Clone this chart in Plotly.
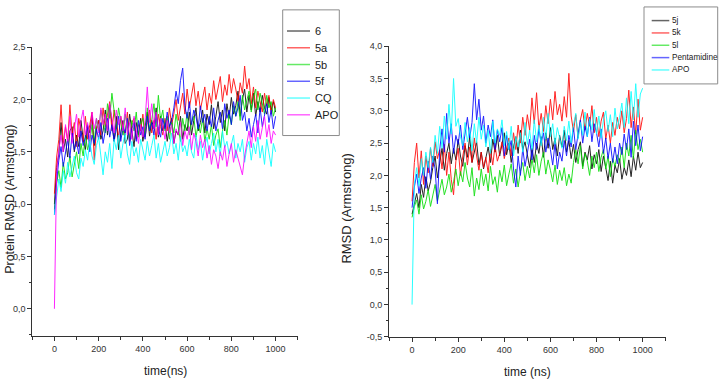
import plotly.graph_objects as go

W, H = 719, 387

# ---------------- data ----------------
TIME_NS = list(range(0, 1001, 10))

LEFT_NAMES = ["6", "5a", "5b", "5f", "CQ", "APO"]
RIGHT_NAMES = ["5j", "5k", "5l", "Pentamidine", "APO"]

L_6 = [1.0, 1.35, 1.48, 1.78, 1.5, 1.62, 1.45, 1.7, 1.74, 1.5,
       1.66, 1.55, 1.8, 1.62, 1.52, 1.75, 1.68, 1.85, 1.56, 1.72,
       1.8, 1.62, 1.7, 1.9, 1.66, 1.95, 1.78, 1.6, 1.84, 1.52,
       1.68, 1.8, 1.58, 1.62, 1.86, 1.7, 1.55, 1.78, 1.66, 1.82,
       1.6, 1.74, 1.88, 1.65, 1.8, 1.72, 1.92, 1.64, 1.84, 1.7,
       1.78, 1.6, 1.74, 1.82, 1.58, 1.7, 1.66, 1.84, 1.62, 1.76,
       1.7, 1.88, 1.66, 1.8, 1.92, 1.7, 1.78, 1.9, 1.68, 1.86,
       1.76, 1.95, 1.72, 1.84, 1.98, 1.78, 1.9, 1.7, 1.96, 1.82,
       2.02, 1.86, 1.94, 2.08, 1.84, 2.0, 2.1, 1.88, 2.04, 1.9,
       2.06, 1.84, 1.98, 1.88, 2.04, 1.92, 1.86, 2.02, 1.9, 1.98,
       1.88]
L_5A = [1.1, 1.45, 1.62, 1.95, 1.58, 1.74, 1.6, 1.95, 1.66, 1.78,
        1.55, 1.82, 1.7, 1.6, 1.84, 1.62, 1.76, 1.88, 1.42, 1.72,
        1.8, 1.66, 1.92, 1.74, 1.85, 1.98, 1.7, 1.9, 1.78, 1.64,
        1.84, 1.72, 1.66, 1.88, 1.6, 1.78, 1.82, 1.62, 1.76, 1.7,
        1.86, 1.64, 1.78, 1.9, 1.68, 1.8, 1.62, 1.86, 1.74, 1.66,
        1.82, 1.7, 1.92, 1.76, 1.86, 2.0, 1.8, 1.92, 2.06, 1.86,
        2.1, 1.92, 2.04, 2.16, 1.94, 2.08, 1.9, 2.02, 2.12, 1.9,
        2.06, 1.96, 2.18, 2.0, 2.1, 2.22, 1.98, 2.14, 2.04, 2.24,
        2.06, 2.2, 2.1, 1.98, 2.16, 2.06, 2.32, 2.1, 2.2, 1.96,
        2.12, 1.92, 2.08, 1.98, 1.88, 2.06, 1.94, 2.04, 1.86, 2.0,
        1.92]
L_5B = [0.95, 1.2, 1.32, 1.16, 1.4, 1.24, 1.3, 1.46, 1.26, 1.38,
        1.5, 1.34, 1.58, 1.46, 1.66, 1.52, 1.6, 1.76, 1.58, 1.82,
        1.7, 1.9, 1.78, 1.68, 1.96, 1.82, 2.06, 1.86, 1.72, 1.92,
        1.78, 1.66, 1.86, 1.74, 1.62, 1.8, 1.7, 1.88, 1.64, 1.76,
        1.82, 1.66, 1.92, 1.72, 1.8, 1.96, 1.74, 2.04, 1.8, 1.9,
        1.7, 1.84, 1.62, 1.78, 1.68, 1.86, 1.72, 1.6, 1.82, 1.7,
        1.88, 1.66, 1.78, 1.84, 1.64, 1.76, 1.68, 1.82, 1.6, 1.72,
        1.62, 1.76, 1.56, 1.66, 1.72, 1.54, 1.7, 1.8, 1.66, 1.86,
        1.76, 1.94, 1.84, 1.98, 1.8, 2.04, 1.9, 1.98, 2.08, 1.88,
        2.02, 2.1, 1.9, 2.06, 1.94, 1.86, 2.04, 1.92, 1.98, 1.84,
        1.92]
L_5F = [0.9, 1.22, 1.42, 1.55, 1.36, 1.5, 1.62, 1.44, 1.68, 1.52,
        1.6, 1.48, 1.7, 1.56, 1.64, 1.76, 1.5, 1.66, 1.58, 1.72,
        1.62, 1.78, 1.58, 1.7, 1.82, 1.64, 1.76, 1.6, 1.72, 1.84,
        1.6, 1.74, 1.68, 1.82, 1.56, 1.72, 1.78, 1.6, 1.8, 1.66,
        1.74, 1.62, 1.84, 1.7, 1.78, 1.66, 1.86, 1.72, 1.64, 1.82,
        1.72, 1.88, 1.74, 1.8, 1.92, 2.08, 1.96, 2.18, 2.3, 1.94,
        1.82, 1.98, 1.76, 1.9, 1.84, 1.72, 1.94, 1.78, 1.86, 1.7,
        1.84, 1.74, 1.92, 1.7, 1.8, 1.88, 1.72, 1.96, 1.82, 1.9,
        1.76, 1.98, 1.84, 1.92, 2.04, 1.8, 1.88, 1.7, 1.82, 1.64,
        1.76, 1.86, 1.68, 1.92, 1.74, 1.84, 1.96, 1.78, 1.9, 1.72,
        1.84]
L_CQ = [0.9, 1.06, 1.24, 1.12, 1.32, 1.2, 1.4, 1.26, 1.36, 1.46,
        1.3, 1.24, 1.44, 1.36, 1.52, 1.42, 1.6, 1.46, 1.38, 1.56,
        1.64, 1.46, 1.28, 1.5, 1.4, 1.58, 1.34, 1.62, 1.52, 1.66,
        1.44, 1.58, 1.68, 1.48, 1.38, 1.6, 1.46, 1.54, 1.4, 1.62,
        1.5, 1.42, 1.6, 1.46, 1.56, 1.66, 1.44, 1.58, 1.4, 1.52,
        1.6, 1.46, 1.54, 1.68, 1.48, 1.58, 1.42, 1.64, 1.5, 1.56,
        1.46, 1.62, 1.5, 1.44, 1.66, 1.52, 1.6, 1.42, 1.56, 1.64,
        1.48, 1.58, 1.68, 1.5, 1.62, 1.46, 1.7, 1.54, 1.6, 1.48,
        1.56, 1.66, 1.44, 1.58, 1.5, 1.62, 1.4, 1.54, 1.6, 1.42,
        1.58, 1.48, 1.64, 1.44, 1.56, 1.38, 1.62, 1.5, 1.36, 1.58,
        1.5]
L_APO = [0.0, 1.3, 1.52, 1.66, 1.5, 1.76, 1.6, 1.84, 1.58, 1.72,
         1.86, 1.64, 1.8, 1.9, 1.66, 1.78, 1.62, 1.88, 1.72, 1.82,
         1.68, 1.92, 1.76, 1.86, 1.7, 1.96, 1.8, 1.68, 1.9, 1.76,
         1.84, 1.7, 1.92, 1.66, 1.78, 1.62, 1.84, 1.7, 1.58, 1.76,
         1.64, 1.8, 2.12, 1.78, 1.96, 1.72, 1.88, 1.66, 1.82, 1.74,
         1.62, 1.8, 1.68, 1.76, 1.58, 1.72, 1.66, 1.78, 1.56, 1.7,
         1.62, 1.74, 1.52, 1.68, 1.6, 1.46, 1.66, 1.54, 1.62, 1.44,
         1.56, 1.38, 1.52, 1.46, 1.34, 1.5, 1.42, 1.56, 1.36, 1.48,
         1.58, 1.4, 1.52, 1.44, 1.36, 1.28, 1.46, 1.6, 1.7, 1.54,
         1.74, 1.6, 1.8, 1.62, 1.72, 1.84, 1.64, 1.76, 1.58, 1.7,
         1.66]

R_5J = [1.4, 1.58, 1.72, 1.5, 1.86, 1.66, 1.98, 1.76, 1.9, 2.12,
        2.3, 1.96, 2.2, 2.42, 2.08, 2.34, 2.5, 2.18, 2.42, 2.24,
        2.56, 2.3, 2.14, 2.46, 2.28, 2.6, 2.2, 2.38, 2.52, 2.16,
        2.36, 2.1, 2.28, 2.44, 2.2, 2.56, 2.36, 2.62, 2.3, 2.5,
        2.66, 2.32, 2.5, 2.2, 2.44, 2.6, 2.34, 2.7, 2.4, 2.52,
        2.3, 2.12, 2.42, 2.2, 2.5, 2.34, 2.6, 2.28, 2.66, 2.42,
        2.74, 2.4, 2.58, 2.3, 2.62, 2.44, 2.7, 2.36, 2.54, 2.26,
        2.48, 2.2, 2.4, 2.52, 2.14, 2.36, 2.24, 2.46, 2.1, 2.32,
        2.18, 2.4, 2.06, 2.3, 2.12, 1.92, 2.22, 1.88, 2.16, 2.04,
        2.26, 1.94, 2.12, 2.0, 2.24, 1.98, 2.3, 2.08, 2.36, 2.12,
        2.2]
R_5K = [1.6, 2.2, 2.5, 1.96, 2.38, 1.86, 2.3, 2.04, 2.42, 2.14,
        2.52, 2.26, 2.4, 2.1, 2.48, 2.0, 2.36, 1.94, 1.7, 2.22,
        2.42, 2.0, 2.3, 2.5, 2.16, 2.44, 2.2, 2.58, 2.3, 2.08,
        2.36, 2.12, 2.28, 2.04, 2.4, 2.16, 2.46, 2.22, 2.34, 2.52,
        2.26, 2.44, 2.58, 2.3, 2.66, 2.4, 2.78, 2.5, 2.9, 2.62,
        2.94, 2.7, 3.2, 2.8, 3.28, 2.72, 2.96, 2.68, 3.08, 2.8,
        3.18, 2.86, 3.3, 2.94, 3.1, 2.84, 3.22, 2.9, 3.58, 2.92,
        2.68, 2.94, 2.58, 2.86, 3.02, 2.7, 2.96, 2.76, 3.08, 2.66,
        2.9, 2.6, 2.84, 2.98, 2.56, 2.78, 2.5, 2.82, 2.62, 2.9,
        2.72, 3.0, 2.66, 2.88, 3.32, 2.74, 3.06, 2.64, 3.18, 2.7,
        2.9]
R_5L = [1.35, 1.52, 1.62, 1.4, 1.7, 1.48, 1.6, 1.78, 1.52, 1.72,
        1.86, 1.6, 1.78, 1.94, 1.7, 1.82, 2.02, 1.74, 1.9, 2.1,
        1.84, 2.06, 1.9, 2.2, 1.96, 1.82, 2.12, 1.68, 1.96, 1.78,
        2.1, 1.84, 2.02, 1.76, 2.14, 1.86, 1.98, 1.74, 2.08, 1.9,
        2.16, 1.84, 2.02, 2.18, 1.88, 2.1, 1.82, 2.06, 2.2, 1.92,
        2.14, 1.96, 2.26, 2.04, 2.32, 2.0, 2.22, 2.36, 2.02, 2.24,
        2.08, 1.9, 2.16, 1.86, 2.08, 1.92, 2.12, 1.84, 2.02, 1.88,
        2.2, 2.4, 2.18, 2.46, 2.1, 2.34, 2.22, 2.0, 2.3, 2.12,
        2.36, 2.06, 2.28, 2.4, 2.1, 2.3, 1.98, 2.26, 2.14, 2.32,
        2.2, 2.44, 2.12, 2.5, 2.3, 2.62, 2.26, 2.7, 2.4, 2.56,
        2.36]
R_PENT = [1.5, 1.82, 2.02, 1.72, 1.96, 2.12, 1.8, 2.22, 1.94, 2.3,
          2.1, 1.56, 2.4, 2.72, 2.36, 2.96, 2.5, 2.8, 2.34, 2.62,
          2.48, 2.78, 2.4, 2.64, 2.9, 2.58, 2.82, 3.42, 2.86, 3.18,
          2.7, 2.92, 2.5, 2.78, 2.6, 2.86, 2.4, 2.7, 2.52, 2.74,
          2.3, 2.62, 2.4, 2.54, 2.1, 1.82, 2.3, 2.0, 2.42, 2.14,
          2.36, 2.56, 2.24, 2.62, 2.4, 2.72, 2.5, 2.66, 2.36, 2.58,
          2.4, 2.16, 2.5, 2.1, 2.36, 2.22, 2.54, 2.3, 2.62, 2.44,
          2.74, 2.4, 2.64, 2.86, 2.5, 2.76, 2.6, 2.9, 2.52, 2.8,
          2.66, 2.44, 2.72, 2.34, 2.58, 2.26, 2.5, 2.2, 2.44, 2.18,
          2.5, 2.32, 2.64, 2.4, 2.72, 2.28, 2.84, 2.46, 2.78, 2.38,
          2.6]
R_APO = [0.0, 1.86, 2.12, 1.84, 2.26, 2.0, 2.36, 2.12, 2.44, 2.2,
         2.62, 2.34, 2.76, 2.42, 2.92, 2.56, 3.1, 2.64, 3.5, 2.76,
         2.88, 2.6, 2.46, 2.82, 2.52, 2.74, 2.38, 2.8, 2.5, 2.9,
         2.56, 2.78, 2.44, 2.7, 2.34, 2.84, 2.5, 2.72, 2.62, 2.86,
         2.46, 2.68, 2.4, 2.76, 2.3, 2.6, 2.44, 2.66, 2.36, 2.82,
         2.48, 2.7, 2.4, 2.86, 2.52, 2.78, 2.46, 2.9, 2.56, 2.96,
         2.6, 2.8, 2.48, 2.74, 2.58, 2.42, 2.76, 2.54, 2.84, 2.5,
         2.78, 2.96, 2.56, 2.82, 2.62, 2.98, 2.6, 2.88, 2.7, 3.02,
         2.64, 2.92, 2.58, 2.86, 3.0, 2.68, 2.94, 2.6, 3.04, 2.72,
         2.9, 3.12, 2.74, 3.2, 2.8, 3.3, 2.86, 3.42, 2.9, 3.26,
         3.35]

LEFT_SERIES = [L_6, L_5A, L_5B, L_5F, L_CQ, L_APO]
RIGHT_SERIES = [R_5J, R_5K, R_5L, R_PENT, R_APO]

LEFT_COLORS = ["#000000", "#ff0000", "#00dd00", "#0000ff", "#00ffff", "#ff00ff"]
RIGHT_COLORS = ["#000000", "#ff0000", "#00dd00", "#0000ff", "#00ffff"]

X_TICK_VALS = [0, 200, 400, 600, 800, 1000]
X_TICK_TEXT = ["0", "200", "400", "600", "800", "1000"]
LY_TICK_VALS = [0.0, 0.5, 1.0, 1.5, 2.0, 2.5]
LY_TICK_TEXT = ["0,0", "0,5", "1,0", "1,5", "2,0", "2,5"]
RY_TICK_VALS = [-0.5, 0.0, 0.5, 1.0, 1.5, 2.0, 2.5, 3.0, 3.5, 4.0]
RY_TICK_TEXT = ["-0,5", "0,0", "0,5", "1,0", "1,5", "2,0", "2,5", "3,0", "3,5", "4,0"]

# ---------------- helpers ----------------
def px(x):
    return x / W

def py(y):
    return 1 - y / H

FONT = "Liberation Sans, Arial, sans-serif"

fig = go.Figure()

for name, vals, col in zip(LEFT_NAMES, LEFT_SERIES, LEFT_COLORS):
    fig.add_trace(go.Scatter(x=TIME_NS, y=vals, mode="lines", name=name,
                             line=dict(color=col, width=1), opacity=0.85,
                             xaxis="x", yaxis="y", showlegend=False))
for name, vals, col in zip(RIGHT_NAMES, RIGHT_SERIES, RIGHT_COLORS):
    fig.add_trace(go.Scatter(x=TIME_NS, y=vals, mode="lines", name=name,
                             line=dict(color=col, width=1), opacity=0.85,
                             xaxis="x2", yaxis="y2", showlegend=False))

axis_common = dict(showline=True, linecolor="#333333", linewidth=1, showgrid=False,
                   zeroline=False, ticks="outside", ticklen=4, tickcolor="#333333",
                   tickwidth=1, tickmode="array",
                   tickfont=dict(family=FONT, size=9, color="#333333"))

fig.update_layout(
    width=W, height=H, margin=dict(l=0, r=0, t=0, b=0),
    paper_bgcolor="white", plot_bgcolor="white",
    xaxis=dict(domain=[px(32.3), px(297.7)], range=[-100, 1100], anchor="y",
               tickvals=X_TICK_VALS, ticktext=X_TICK_TEXT,
               minor=dict(tickmode="linear", tick0=-100, dtick=200, ticks="outside",
                          ticklen=3, tickcolor="#333333"),
               **axis_common),
    yaxis=dict(domain=[py(340), py(43.3)], range=[-0.262, 2.5], anchor="x",
               tickvals=LY_TICK_VALS, ticktext=LY_TICK_TEXT,
               minor=dict(tickmode="linear", tick0=0.25, dtick=0.5, ticks="outside",
                          ticklen=2, tickcolor="#333333"),
               **axis_common),
    xaxis2=dict(domain=[px(389), px(665.7)], range=[-100, 1100], anchor="y2",
                tickvals=X_TICK_VALS, ticktext=X_TICK_TEXT,
                minor=dict(tickmode="linear", tick0=-100, dtick=200, ticks="outside",
                           ticklen=3, tickcolor="#333333"),
                **axis_common),
    yaxis2=dict(domain=[py(340.7), py(42.3)], range=[-0.5, 4.0], anchor="x2",
                tickvals=RY_TICK_VALS, ticktext=RY_TICK_TEXT,
                minor=dict(tickmode="linear", tick0=-0.25, dtick=0.5, ticks="outside",
                           ticklen=2, tickcolor="#333333"),
                **axis_common),
)

# axis titles
ann = [
    dict(text="Protein RMSD (Armstrong)", x=px(10), y=py(200), textangle=-90,
         font=dict(family=FONT, size=12.5, color="#222222")),
    dict(text="RMSD (Armstrong)", x=px(347), y=py(209), textangle=-90,
         font=dict(family=FONT, size=13, color="#222222")),
    dict(text="time(ns)", x=px(165), y=py(376),
         font=dict(family=FONT, size=12, color="#222222")),
    dict(text="time (ns)", x=px(527), y=py(377),
         font=dict(family=FONT, size=12, color="#222222")),
]
for a in ann:
    fig.add_annotation(xref="paper", yref="paper", showarrow=False,
                       xanchor="center", yanchor="middle", **a)

# legends (boxes with line samples)
def draw_legend(names, colors, box, row0, step, lx0, lx1, tx, fsize):
    fig.add_shape(type="rect", xref="paper", yref="paper",
                  x0=px(box[0]), x1=px(box[1]), y0=py(box[3]), y1=py(box[2]),
                  line=dict(color="#8c8c8c", width=1), fillcolor="white", layer="above")
    for i, (n, c) in enumerate(zip(names, colors)):
        yy = row0 + i * step
        fig.add_shape(type="line", xref="paper", yref="paper",
                      x0=px(lx0), x1=px(lx1), y0=py(yy), y1=py(yy),
                      line=dict(color=c, width=1.5), opacity=0.6, layer="above")
        fig.add_annotation(xref="paper", yref="paper", showarrow=False,
                           x=px(tx), y=py(yy), xanchor="left", yanchor="middle",
                           text=n, font=dict(family=FONT, size=fsize, color="#222222"))

draw_legend(LEFT_NAMES, LEFT_COLORS, (282.7, 339.3, 5, 134), 26.7, 17.2, 287, 310, 312.5, 11)
draw_legend(RIGHT_NAMES, RIGHT_COLORS, (644, 717.7, 2, 81), 16, 12.67, 651.7, 669.3, 670, 8.2)

fig.write_html("out.html", config={"displayModeBar": False},
               post_script="document.body.style.margin='0px';document.body.style.overflow='hidden';")
